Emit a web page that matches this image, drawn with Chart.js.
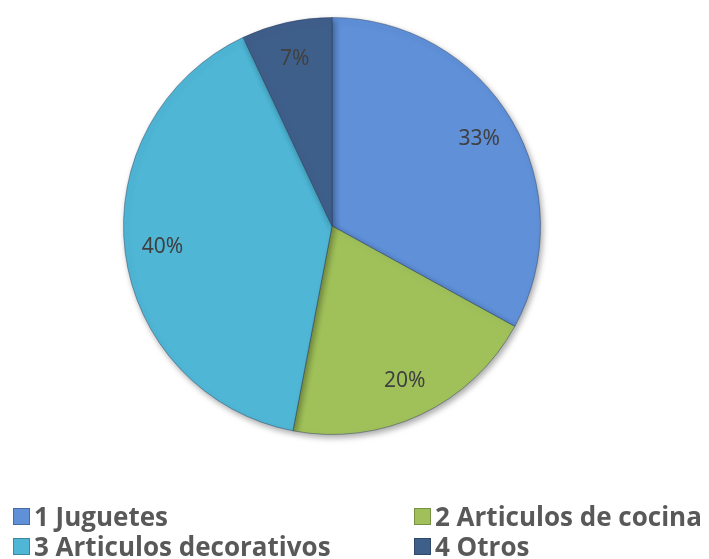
<!DOCTYPE html>
<html>
<head>
<meta charset="utf-8">
<script src="https://cdn.jsdelivr.net/npm/chart.js@4/dist/chart.umd.min.js"></script>
<style>
  html, body { margin: 0; padding: 0; background: #fff; }
  #wrap { position: relative; width: 709px; height: 559px; overflow: hidden; }
  #legend { position: absolute; left: 13px; top: 501px; width: 696px; font-family: 'Open Sans', 'Noto Sans', sans-serif; font-weight: bold; font-size: 26px; color: #595959; }
  .item { position: absolute; display: flex; align-items: center; white-space: nowrap; line-height: 30px; }
  .box { width: 17px; height: 17px; margin-right: 4px; box-sizing: border-box; border: 1px solid rgba(0,0,0,0.25); }
</style>
</head>
<body>
<div id="wrap">
  <canvas id="pie" width="709" height="559"></canvas>
  <div id="legend"></div>
</div>
<script>
const categories = ['1 Juguetes', '2 Articulos de cocina', '3 Articulos decorativos', '4 Otros']
const shares = [33, 20, 40, 7]
const colors = ['#5f90d8', '#a0c15a', '#4fb6d6', '#3f5f8b']

// percent labels inside each slice
const sliceLabels = {
  id: 'sliceLabels',
  afterDatasetsDraw(chart) {
    const ctx = chart.ctx
    const meta = chart.getDatasetMeta(0)
    ctx.save()
    ctx.font = '21px "Noto Sans", "Open Sans", sans-serif'
    ctx.fillStyle = '#404040'
    ctx.textAlign = 'center'
    ctx.textBaseline = 'middle'
    meta.data.forEach((arc, i) => {
      const mid = (arc.startAngle + arc.endAngle) / 2
      const r = arc.outerRadius * 0.82
      ctx.fillText(shares[i] + '%', arc.x + Math.cos(mid) * r, arc.y + Math.sin(mid) * r)
    })
    ctx.restore()
  },
}

// soft drop shadow under the pie
const pieShadow = {
  id: 'pieShadow',
  beforeDatasetsDraw(chart) {
    const ctx = chart.ctx
    ctx.save()
    ctx.shadowColor = 'rgba(0,0,0,0.35)'
    ctx.shadowBlur = 6
    ctx.shadowOffsetX = 2
    ctx.shadowOffsetY = 3
  },
  afterDatasetsDraw(chart) {
    chart.ctx.restore()
  },
}

const chart = new Chart(document.querySelector('#pie'), {
  type: 'pie',
  data: {
    labels: categories,
    datasets: [
      {
        data: shares,
        backgroundColor: colors,
        borderColor: 'rgba(40,60,90,0.45)',
        borderWidth: 1,
      },
    ],
  },
  options: {
    responsive: false,
    animation: false,
    layout: {
      padding: { left: 123, right: 168, top: 17, bottom: 124 },
    },
    plugins: {
      legend: { display: false },
      tooltip: { enabled: false },
    },
  },
  plugins: [pieShadow, sliceLabels],
})

// two-column legend
const legend = document.querySelector('#legend')
const spots = [
  [0, 0],
  [401, 0],
  [0, 30],
  [401, 30],
]
categories.forEach((name, i) => {
  const item = document.createElement('div')
  item.className = 'item'
  item.style.left = spots[i][0] + 'px'
  item.style.top = spots[i][1] + 'px'
  const box = document.createElement('span')
  box.className = 'box'
  box.style.background = colors[i]
  const label = document.createElement('span')
  label.textContent = name
  item.appendChild(box)
  item.appendChild(label)
  legend.appendChild(item)
})
</script>
</body>
</html>
